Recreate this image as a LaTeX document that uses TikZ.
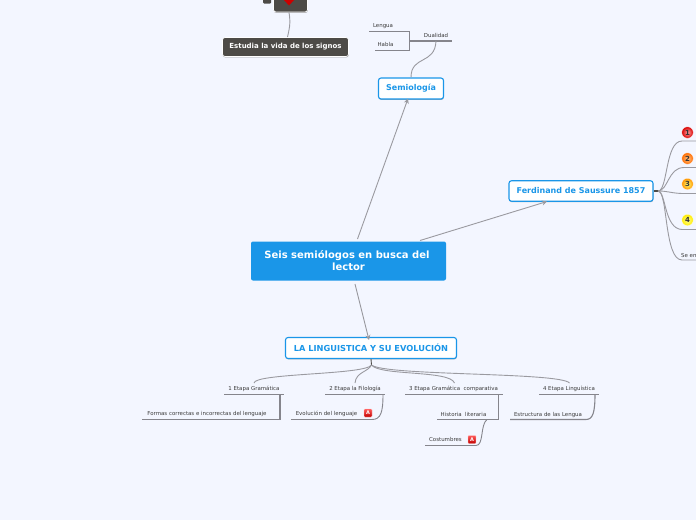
\documentclass[tikz,border=0pt]{standalone}
\usepackage{fontspec}
\setmainfont{DejaVu Sans}
\usetikzlibrary{arrows.meta,shadows}
\definecolor{bgc}{HTML}{F3F6FF}
\definecolor{bluec}{HTML}{1A96E8}
\definecolor{darkc}{HTML}{4D4B47}
\definecolor{linec}{HTML}{9A9AA0}
\definecolor{edgec}{HTML}{85858C}
\definecolor{txtc}{HTML}{3A3A3A}
\tikzset{
 x=1pt,y=-1pt,
 rootbox/.style={fill=bluec,rounded corners=2pt,text=white,font=\fontsize{10}{12}\selectfont\bfseries,align=center,inner sep=0pt,minimum width=195pt,minimum height=39pt,anchor=center},
 mainbox/.style={fill=white,draw=bluec,line width=1.1pt,rounded corners=2.5pt,text=bluec,font=\fontsize{8}{10}\selectfont\bfseries,inner sep=0pt,anchor=center,drop shadow={shadow xshift=0.3pt,shadow yshift=-0.9pt,fill=black!55,opacity=.6}},
 darkbox/.style={fill=darkc,draw=white,line width=.7pt,rounded corners=2.5pt,text=white,font=\fontsize{7}{9}\selectfont\bfseries,inner sep=0pt,anchor=center,drop shadow={shadow xshift=0.3pt,shadow yshift=-0.9pt,fill=black!60,opacity=.6}},
 small/.style={text=txtc,font=\fontsize{5.45}{6.5}\selectfont,inner sep=0pt,anchor=center,yshift=-.7pt},
 link/.style={draw=linec,line width=.9pt},
 under/.style={draw=edgec,line width=.9pt},
 arrowl/.style={draw=linec,line width=.9pt,-{Stealth[length=5pt,width=5pt]}},
 badge/.style={circle,minimum size=11.5pt,inner sep=0pt,text=black!80,font=\fontsize{7}{8}\selectfont\bfseries,draw=white,line width=.3pt},
 pdfi/.style={top color=red!65!white,bottom color=red!75!black,draw=red!25,line width=.4pt,rounded corners=.8pt,minimum size=8pt,inner sep=0pt,text=white,font=\fontsize{5}{5}\selectfont\bfseries},
}
\begin{document}
\begin{tikzpicture}
\useasboundingbox (0,0) rectangle (696,520);
\fill[bgc] (0,0) rectangle (696,520);
% nodes
\node[rootbox] (root) at (348.5,261) {\hspace*{-3pt}Seis semiólogos en busca del\\lector};
\node[mainbox,minimum width=65pt,minimum height=21pt] (sem) at (411,88.5) {Semiología};
\node[mainbox,minimum width=144pt,minimum height=20.5pt] (fer) at (581,191) {Ferdinand de Saussure 1857};
\node[mainbox,minimum width=171pt,minimum height=21pt,font=\fontsize{8.25}{10}\selectfont\bfseries] (lin) at (371,348) {LA LINGUISTICA Y SU EVOLUCIÓN};
\node[darkbox,minimum width=126pt,minimum height=19pt] (vid) at (285.5,47) {Estudia la vida de los signos};
\begin{scope}
\clip (0,0) rectangle (696,520);
\node[darkbox,minimum width=34pt,minimum height=24pt] (top) at (290.5,0) {};
\fill[darkc,rounded corners=1pt] (263,-3) rectangle (271,3.5);
\fill[red!80!black] (284,0) -- (294,0) -- (289,5.5) -- cycle;
\end{scope}
% small labels
\node[small] (leng) at (383,25) {Lengua};
\node[small] (hab) at (385.5,44) {Habla};
\node[small] (dua) at (436,35) {Dualidad};
\node[small] (e1) at (254,388) {1 Etapa Gramática};
\node[small] (f1) at (207,413) {Formas correctas e incorrectas del lenguaje};
\node[small] (e2) at (355,388) {2 Etapa la Filología};
\node[small] (ev) at (326.5,413) {Evolución del lenguaje};
\node[small] (e3) at (453.5,388) {3 Etapa Gramática\ \ comparativa};
\node[small] (hi) at (463.5,413.5) {Historia\ \ literaria};
\node[small] (co) at (445.5,439) {Costumbres};
\node[small] (e4) at (569,388) {4 Etapa Linguística};
\node[small] (es) at (548,414) {Estructura de las Lengua};
\node[small,anchor=west] (se) at (681,254.5) {Se en};
% badges
\node[badge,inner color=red!35!white,outer color=red!85!black] (b1) at (687.5,132.5) {1};
\node[badge,inner color=orange!45!white,outer color=orange!85!red] (b2) at (687.5,158.5) {2};
\node[badge,inner color=yellow!55!white,outer color=orange!85!yellow] (b3) at (687.5,184) {3};
\node[badge,inner color=yellow!45!white,outer color=yellow!85!orange] (b4) at (687.5,220) {4};
\node[pdfi] (p1) at (368,413) {A};
\node[pdfi] (p2) at (472,439.5) {A};
% arrows
\coordinate (a1) at (357.5,239);
\coordinate (a2) at (420,240.5);
\coordinate (a3) at (355,284);
\draw[arrowl] (a1) -- ([xshift=-3pt,yshift=1pt]sem.south);
\draw[arrowl] (a2) -- (547,201.5);
\draw[arrowl] (a3) -- (369,340);
% top
\draw[link] (top.south) ++(-1.5,0) .. controls (291,24) and (289,30) .. (287.5,37);
% Semiologia
\coordinate (dJ) at (409,41);
\draw[under] (369,31) -- (409.5,31) -- (409.5,50.5) -- (375,50.5);
\draw[under,line width=1.1pt] (409.5,41) -- (452,41);
\draw[link] (sem.north) .. controls (411,55) and (435,65) .. (436,41);
% Ferdinand
\coordinate (fJ) at (655,191);
\draw[darkc,line width=1.1pt] (fer.east) -- (659,191);
\draw[link] (658,191) .. controls (668,191) and (665,141) .. (682,141) -- (696,141);
\draw[link] (658,191) .. controls (668,191) and (668,167.5) .. (684,167.5) -- (696,167.5);
\draw[link] (658,191) .. controls (668,191) and (670,193) .. (682,193.5) -- (696,193.5);
\draw[link] (658,191) .. controls (666,191) and (664,229) .. (682,229.5) -- (696,229.5);
\draw[link] (658,191) .. controls (668,191) and (664,260) .. (682,260) -- (696,260);
% Linguistica
\draw[darkc,line width=.9pt] (lin.south) ++(0,0) -- (371.5,365);
\draw[link] (371.5,365) .. controls (365,375) and (255,373) .. (254,383);
\draw[link] (371.5,365) .. controls (368,372) and (356,372) .. (355,383);
\draw[link] (371.5,365) .. controls (380,376) and (450,370) .. (454.5,383);
\draw[link] (371.5,365) .. controls (385,376) and (560,372) .. (569.5,383);
% underlines
\draw[under] (224,394) -- (284,394);
\draw[under,line width=1.1pt] (280,394) -- (280,419.5) -- (142,419.5);
\draw[under] (325,394) -- (385,394);
\draw[under] (383,394) .. controls (383,412) and (381,419.5) .. (372,419.5) -- (291,419.5);
\draw[under] (405,394) -- (503,394);
\draw[under] (498.5,394) -- (498.5,419.5) -- (437,419.5);
\draw[under] (487,419.5) .. controls (480,425) and (484,445.5) .. (476,445.5) -- (425,445.5);
\draw[under] (539,394) -- (599,394);
\draw[under,line width=1.1pt] (595,394) .. controls (595,412) and (593,419.5) .. (586,419.5) -- (510,419.5);
\end{tikzpicture}
\end{document}
